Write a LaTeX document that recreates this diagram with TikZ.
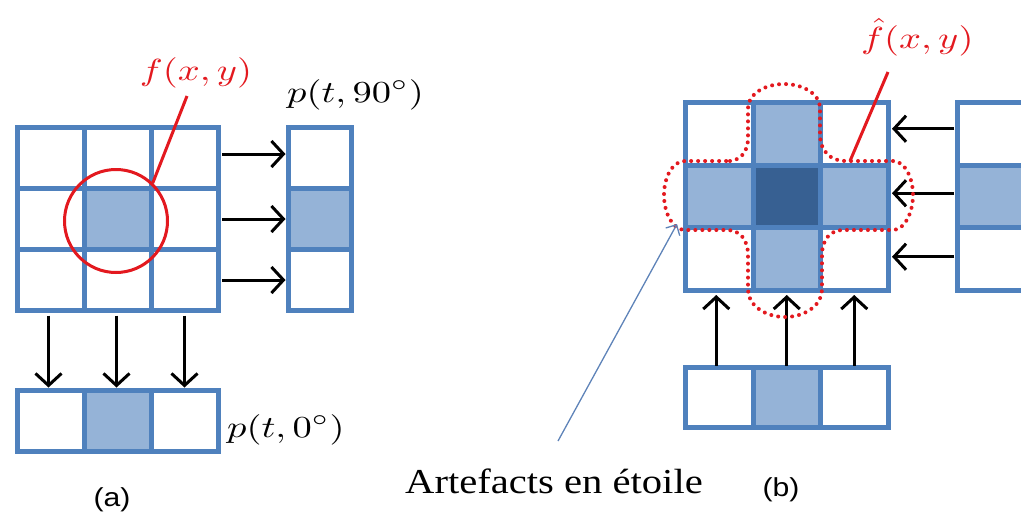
\documentclass[tikz,border=0pt]{standalone}
\usepackage{fontspec}
\usepackage{graphicx}
\setmainfont{Liberation Serif}
\newfontfamily\arialfont{Liberation Sans}
\usetikzlibrary{arrows.meta}
\definecolor{cellblue}{HTML}{4F81BD}
\definecolor{lightfill}{HTML}{95B3D7}
\definecolor{darkfill}{HTML}{376092}
\definecolor{redline}{HTML}{E3191F}
\definecolor{thinblue}{HTML}{5E83B8}
\newcommand{\bigmath}[1]{\scalebox{3.85}[3.05]{$#1$}}
\begin{document}
\begin{tikzpicture}[x=1pt,y=-1pt,
  cell/.style={draw=cellblue, line width=5pt, fill=white, minimum width=67pt, minimum height=61pt, inner sep=0pt, outer sep=0pt},
  cellb/.style={cell, minimum width=67.5pt, minimum height=62.5pt},
  lit/.style={fill=lightfill},
  drk/.style={fill=darkfill},
  flow/.style={draw=black, line width=3pt, -{Straight Barb[length=12pt,width=26pt]}},
  redl/.style={draw=redline, line width=3pt},
  dots/.style={draw=redline, line width=4pt, line cap=round, dash pattern=on 0pt off 7pt},
  mathlab/.style={font=\normalsize, inner sep=0pt},
  caplab/.style={font=\arialfont\fontsize{26}{30}\selectfont, inner sep=0pt},
  artlab/.style={font=\fontsize{35}{40}\selectfont, inner sep=0pt},
  thinarrow/.style={draw=thinblue, line width=1.3pt, -{Straight Barb[length=8pt,width=16pt]}}
]
\useasboundingbox (0,0) rectangle (1021,517);
\clip (0,0) rectangle (1021,517);

% ---------------- (a) ----------------
\node[cell] (a11) at (50.5,158) {};
\node[cell] (a12) at (117.5,158) {};
\node[cell] (a13) at (184.5,158) {};
\node[cell] (a21) at (50.5,219) {};
\node[cell,lit] (a22) at (117.5,219) {};
\node[cell] (a23) at (184.5,219) {};
\node[cell] (a31) at (50.5,280) {};
\node[cell] (a32) at (117.5,280) {};
\node[cell] (a33) at (184.5,280) {};

\node[cell,minimum width=63pt] (v1) at (320,158) {};
\node[cell,minimum width=63pt,lit] (v2) at (320,219) {};
\node[cell,minimum width=63pt] (v3) at (320,280) {};

\node[cell] (h1) at (50.5,421) {};
\node[cell,lit] (h2) at (117.5,421) {};
\node[cell] (h3) at (184.5,421) {};

\draw[flow, shorten <=4pt, shorten >=3pt] ([yshift=4pt]a13.east) -- ([yshift=4pt]v1.west);
\draw[flow, shorten <=4pt, shorten >=3pt] (a23.east) -- (v2.west);
\draw[flow, shorten <=4pt, shorten >=3pt] (a33.east) -- (v3.west);

\draw[flow, shorten <=5pt, shorten >=3pt] ([xshift=-2pt]a31.south) -- ([xshift=-2pt]h1.north);
\draw[flow, shorten <=5pt, shorten >=3pt] ([xshift=-1pt]a32.south) -- ([xshift=-1pt]h2.north);
\draw[flow, shorten <=5pt, shorten >=3pt] (a33.south) -- (h3.north);

\node[circle, draw=redline, line width=3pt, minimum size=103pt, inner sep=0pt] (ring) at (116,221) {};
\node[mathlab, text=redline, anchor=base] (flab) at (196,80) {\bigmath{f(x,y)}};
\coordinate (ftip) at (187,96);
\draw[redl] (ring.46) -- (ftip);

\node[mathlab, anchor=base west] (p90) at (287,102) {\bigmath{p(t,90^{\circ})}};
\node[mathlab, anchor=base west] (p0) at (227,437) {\bigmath{p(t,0^{\circ})}};
\node[caplab] (capa) at (112,500) {\scalebox{1.16}[1]{(a)}};

% ---------------- (b) ----------------
\node[cellb] (b11) at (719.25,133.75) {};
\node[cellb,lit] (b12) at (786.75,133.75) {};
\node[cellb] (b13) at (854.25,133.75) {};
\node[cellb,lit] (b21) at (719.25,196.25) {};
\node[cellb,drk] (b22) at (786.75,196.25) {};
\node[cellb,lit] (b23) at (854.25,196.25) {};
\node[cellb] (b31) at (719.25,258.75) {};
\node[cellb,lit] (b32) at (786.75,258.75) {};
\node[cellb] (b33) at (854.25,258.75) {};

\node[cellb] (w1) at (991,133.75) {};
\node[cellb,lit] (w2) at (991,196.25) {};
\node[cellb] (w3) at (991,258.75) {};

\node[cellb,minimum height=60pt] (g1) at (719.25,397.5) {};
\node[cellb,minimum height=60pt,lit] (g2) at (786.75,397.5) {};
\node[cellb,minimum height=60pt] (g3) at (854.25,397.5) {};

\draw[flow, shorten <=3pt, shorten >=4pt] ([yshift=5pt]w1.west) -- ([yshift=5pt]b13.east);
\draw[flow, shorten <=3pt, shorten >=4pt] ([yshift=3pt]w2.west) -- ([yshift=3pt]b23.east);
\draw[flow, shorten <=3pt, shorten >=4pt] ([yshift=2pt]w3.west) -- ([yshift=2pt]b33.east);

\draw[flow, shorten <=2pt, shorten >=5pt] ([xshift=-3pt]g1.north) -- ([xshift=-3pt]b31.south);
\draw[flow, shorten <=2pt, shorten >=5pt] (g2.north) -- (b32.south);
\draw[flow, shorten <=2pt, shorten >=5pt] (g3.north) -- (b33.south);

% star-shaped dotted outline
\draw[dots] (730,161) .. controls (742,160) and (748,150) .. (748,138)
  -- (748,108) .. controls (748,94) and (765,84) .. (784,84)
  .. controls (803,84) and (820,94) .. (820,108)
  -- (820,135) .. controls (820,150) and (830,161) .. (845,161)
  -- (893,161) .. controls (905,161) and (913,178) .. (913,195)
  .. controls (913,212) and (905,230) .. (893,230)
  -- (843,230) .. controls (830,230) and (822,240) .. (822,255)
  -- (822,290) .. controls (822,305) and (805,317) .. (785,317)
  .. controls (765,317) and (748,305) .. (748,290)
  -- (748,255) .. controls (748,240) and (740,230) .. (727,230)
  -- (685,230) .. controls (672,230) and (664,212) .. (664,195)
  .. controls (664,178) and (672,161) .. (685,161) -- cycle;

\node[mathlab, text=redline, anchor=base west] (fhlab) at (861,48) {\bigmath{\hat{f}(x,y)}};
\coordinate (fhtip) at (888,72);
\coordinate (fhend) at (850,161);
\draw[redl] (fhtip) -- (fhend);

\node[artlab, anchor=base west] (art) at (405,493) {\scalebox{1.16}[1]{Artefacts en étoile}};
\coordinate (artstart) at (558,441);
\coordinate (artend) at (677,224);
\draw[thinarrow] (artstart) -- (artend);

\node[caplab] (capb) at (781,490) {\scalebox{1.16}[1]{(b)}};
\end{tikzpicture}
\end{document}
